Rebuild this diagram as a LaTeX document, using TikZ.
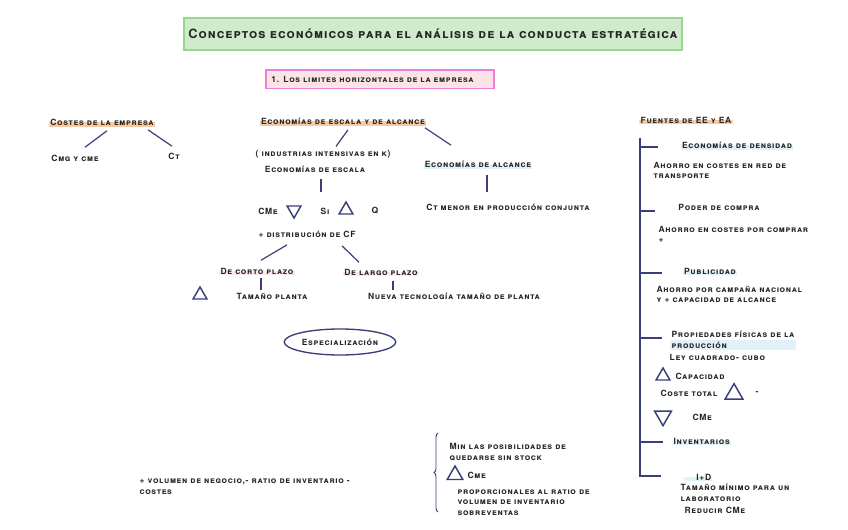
\documentclass[tikz,border=0pt]{standalone}
\usepackage{fontspec}
\setmainfont{TeX Gyre Heros}
\usetikzlibrary{shapes.geometric,decorations.pathreplacing}
\definecolor{ink}{HTML}{262626}
\definecolor{navy}{HTML}{3B3F78}
\definecolor{titlegreen}{HTML}{CFEBCB}
\definecolor{titleedge}{HTML}{98D68E}
\definecolor{tagpink}{HTML}{FBE3E7}
\definecolor{tagedge}{HTML}{EE7ED8}
\definecolor{hlorange}{HTML}{F9C9A0}
\definecolor{hlcyan}{HTML}{E0F2F8}
\definecolor{hlpink}{HTML}{FBE9EC}
\tikzset{
  lbl/.style={inner sep=1pt,text=ink,
    font=\fontsize{6.4}{8}\selectfont\bfseries\addfontfeature{LetterSpace=8}\scshape},
  note/.style={lbl,align=left,anchor=west},
  hlo/.style={path picture={\fill[hlorange] (path picture bounding box.west)
    rectangle (path picture bounding box.south east);}},
  hlc/.style={path picture={\fill[hlcyan] (path picture bounding box.west)
    rectangle (path picture bounding box.south east);}},
  hlp/.style={path picture={\fill[hlpink] (path picture bounding box.west)
    rectangle (path picture bounding box.south east);}},
  titlebox/.style={draw=titleedge,fill=titlegreen,line width=1.5pt,
    minimum width=370pt,minimum height=24pt,text=ink,
    font=\fontsize{9.6}{10}\selectfont\bfseries\addfontfeature{LetterSpace=8}\scshape},
  tagbox/.style={draw=tagedge,fill=tagpink,line width=1pt,
    minimum height=14pt,text width=163pt,inner xsep=4pt,align=left,text=ink,
    font=\fontsize{6.4}{8}\selectfont\bfseries\addfontfeature{LetterSpace=9}\scshape},
  link/.style={draw=navy,line width=0.9pt},
  tri/.style={draw=navy,line width=1.1pt,regular polygon,regular polygon sides=3,
    inner sep=0pt,minimum size=12pt},
  tridown/.style={tri,shape border rotate=180},
  blob/.style={draw=navy,line width=1pt,ellipse,minimum width=81pt,
    minimum height=19.5pt,inner sep=0pt}
}
\begin{document}
\begin{tikzpicture}[x=0.75pt,y=-0.75pt]
  \useasboundingbox[fill=white] (0,0) rectangle (848,530);
  % headings
  \node[titlebox] (title) at (433,34)
    {Conceptos económicos para el análisis de la conducta estratégica};
  \node[tagbox] (tag) at (380,79.5) {1. Los limites horizontales de la empresa};

  % costes
  \node[lbl,hlo] (costes) at (102,122) {Costes de la empresa};
  \node[lbl] (cmg) at (75,158) {Cmg y cme};
  \node[lbl] (ct) at (174,156) {Ct};
  \draw[link] ([shift={(5,4)}]costes.south) -- ([shift={(10,-6)}]cmg.north);
  \draw[link] ([shift={(46,3)}]costes.south) -- ([shift={(-2,-5)}]ct.north);

  % escala y alcance
  \node[lbl,hlo] (escalc) at (343,121) {Economías de escala y de alcance};
  \node[lbl] (intens) at (323,154) {( industrias intensivas en k)};
  \node[lbl] (escala) at (315,169) {Economías de escala};
  \node[lbl,hlc] (alcance) at (478,164) {Economías de alcance};
  \node[lbl] (conj) at (508,207) {Ct menor en producción conjunta};
  \draw[link] ([shift={(5,4)}]escalc.south) -- ([shift={(13,-2)}]intens.north);
  \draw[link] ([shift={(82,2)}]escalc.south) -- ([shift={(-27,-14)}]alcance.north);
  \coordinate (escalaend) at (321,192);
  \coordinate (alcanceend) at (487,192);
  \draw[link] ([shift={(6,5)}]escala.south) -- (escalaend);
  \draw[link] ([shift={(9,6)}]alcance.south) -- (alcanceend);

  \node[lbl] (cme) at (268,211) {CMe};
  \node[tridown] (tcme) at (294,210) {};
  \node[lbl] (si) at (325,211) {Si};
  \node[tri] (tsi) at (346,210) {};
  \node[lbl] (q) at (375,211) {Q};

  \node[lbl] (dist) at (307,234) {+ distribución de CF};
  \node[lbl,hlp] (corto) at (257,271) {De corto plazo};
  \node[lbl,hlp] (largo) at (381,272) {De largo plazo};
  \draw[link] ([shift={(-20,6)}]dist.south) -- ([shift={(4,-6)}]corto.north);
  \draw[link] ([shift={(35,7)}]dist.south) -- ([shift={(-22,-5)}]largo.north);
  \node[tri] (tpl) at (200,295) {};
  \node[lbl] (planta) at (272,296) {Tamaño planta};
  \node[lbl] (nueva) at (454,296) {Nueva tecnología tamaño de planta};
  \draw[link] ([shift={(4,2)}]corto.south) -- ([shift={(-11,-1)}]planta.north);
  \draw[link] ([shift={(12,4)}]largo.south) -- ([shift={(-61,-1)}]nueva.north);

  \node[blob,lbl] (espec) at (340,342) {Especialización};

  % fuentes de EE y EA
  \node[lbl,hlo] (fuentes) at (686,120) {Fuentes de EE y EA};
  \coordinate (brtop) at (640,138);
  \coordinate (brbot) at (640,476);
  \draw[link] (brtop) -- (brbot) -- ++(21,0);
  \foreach \yy/\len in {147/18,211/15,273/22,338/22,442/23}
    \draw[link] (640,\yy) -- ++(\len,0);

  \node[lbl,hlc] (dens) at (737,145) {Economías de densidad};
  \node[note] (ahorro1) at (652,170.5) {Ahorro en costes en red de\\transporte};
  \node[lbl] (compra) at (719,207) {Poder de compra};
  \node[note] (ahorro2) at (657,234.5) {Ahorro en costes por comprar\\+};
  \node[lbl,hlc] (publi) at (710,271) {Publicidad};
  \node[note] (ahorro3) at (655,294.5) {Ahorro por campaña nacional\\y + capacidad de alcance};
  \node[note,hlc] (prop) at (670,340) {Propiedades físicas de la\\producción};
  \node[note] (ley) at (668,357) {Ley cuadrado- cubo};
  \node[tri] (tcap) at (663,376) {};
  \node[note] (capac) at (674,376) {Capacidad};
  \node[note] (ctot) at (659,393) {Coste total};
  \node[tri,minimum size=15.5pt] (tctot) at (734,394) {};
  \node[note] (menos) at (754,393) {-};
  \node[tridown,minimum size=14.5pt] (tcme2) at (663,416) {};
  \node[note] (cme2) at (691,417) {CMe};
  \node[note,hlc] (invent) at (672,441) {Inventarios};
  \node[note,hlc] (imd) at (684,477) {\hspace{8pt}I+D};
  \node[note] (tamlab) at (679,493) {Tamaño mínimo para un\\laboratorio};
  \node[note] (reducir) at (683,510) {Reducir CMe};

  % inventarios
  \coordinate (brlow) at (438,512);
  \coordinate (brhigh) at (438,433);
  \draw[navy,line width=0.7pt,decorate,decoration={brace,amplitude=3pt}]
    (brlow) -- (brhigh);
  \node[note] (stock) at (448,452) {Min las posibilidades de\\quedarse sin stock};
  \node[tri,minimum size=13.5pt] (tcme3) at (455,475) {};
  \node[note] (cme3) at (466,475) {Cme};
  \node[note] (ratio) at (456,502.5)
    {proporcionales al ratio de\\volumen de inventario\\sobreventas};
  \node[note] (volumen) at (138,486.5)
    {+ volumen de negocio,- ratio de inventario -\\costes};
\end{tikzpicture}
\end{document}
